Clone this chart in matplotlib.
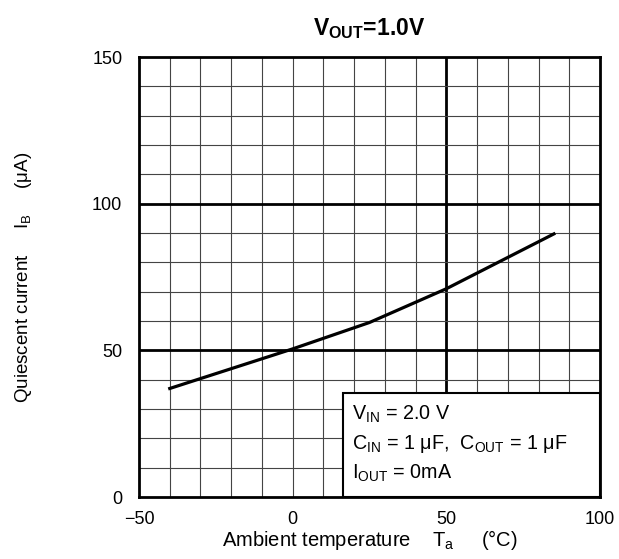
import matplotlib
matplotlib.use('Agg')
import matplotlib.pyplot as plt
from matplotlib.patches import Rectangle

plt.rcParams['font.family'] = ['Liberation Sans', 'DejaVu Sans']
plt.rcParams['mathtext.fontset'] = 'custom'
plt.rcParams['mathtext.rm'] = 'Liberation Sans'
plt.rcParams['mathtext.bf'] = 'Liberation Sans:bold'
plt.rcParams['mathtext.it'] = 'Liberation Sans:italic'

# data
temp = [-40, 0, 25, 50, 85]
iq = [37.0, 50.5, 59.5, 71.0, 89.7]

xticks = [-50, 0, 50, 100]
xticklabels = ['\u221250', '0', '50', '100']
yticks = [0, 50, 100, 150]

fig = plt.figure(figsize=(6.19, 5.59), dpi=100)
ax = fig.add_axes([0.2246, 0.1109, 0.7447, 0.7871])

# grid: thin every 10, thick at x=50, y=50 and y=100
for x in range(-40, 100, 10):
    lw = 2.0 if x == 50 else 0.8
    ax.axvline(x, color='black' if x == 50 else '#444444', lw=lw, zorder=1)
for y in range(10, 150, 10):
    lw = 2.0 if y in (50, 100) else 0.8
    ax.axhline(y, color='black' if y in (50, 100) else '#444444', lw=lw, zorder=1)

ax.plot(temp, iq, color='black', lw=2.3, zorder=3)

ax.set_xlim(-50, 100)
ax.set_ylim(0, 150)
ax.set_xticks(xticks)
ax.set_xticklabels(xticklabels)
ax.set_yticks(yticks)
ax.tick_params(length=0, labelsize=13)
ax.tick_params(axis='x', pad=10)
ax.tick_params(axis='y', pad=12)
for s in ax.spines.values():
    s.set_linewidth(2.0)

# condition box
ax.add_patch(Rectangle((0.4425, 0), 0.5575, 0.236, transform=ax.transAxes,
                       facecolor='white', edgecolor='black', lw=1.5, zorder=4))
conds = [r'V$_{\mathrm{IN}}$ = 2.0 V',
         r'C$_{\mathrm{IN}}$ = 1 $\mathrm{\mu}$F,  C$_{\mathrm{OUT}}$ = 1 $\mathrm{\mu}$F',
         r'I$_{\mathrm{OUT}}$ = 0mA']
for i, t in enumerate(conds):
    ax.text(0.462, 0.188 - i * 0.067, t, transform=ax.transAxes, fontsize=14.2,
            va='center', ha='left', zorder=5)

ax.set_title(r'$\mathbf{V_{OUT}}$=1.0V', fontsize=16.5, fontweight='bold', pad=16)
ax.set_xlabel('Ambient temperature    T$_{\\mathrm{a}}$     (\u00b0C)', fontsize=14.5, labelpad=0)
ax.set_ylabel('Quiescent current     I$_{\\mathrm{B}}$     (\u03bcA)', fontsize=13.5, labelpad=42)

plt.savefig('out.png', dpi=100)
